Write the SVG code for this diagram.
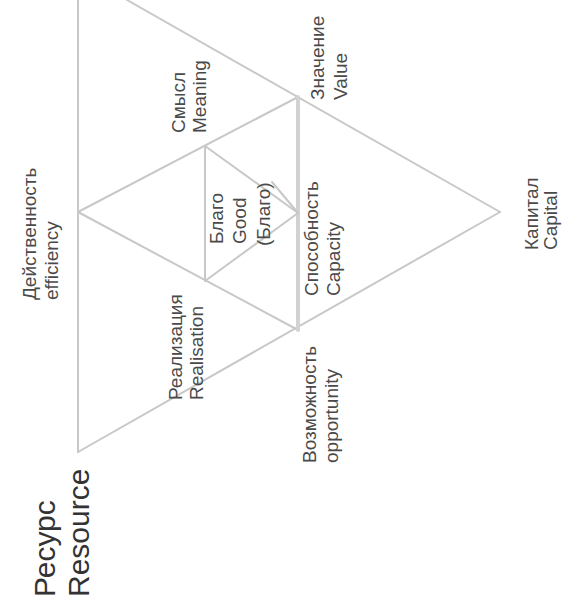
<svg xmlns="http://www.w3.org/2000/svg" width="574" height="608" viewBox="0 0 574 608">
<style>
.ln{stroke:#c8c8c8;stroke-width:2;fill:none;stroke-linecap:round}
.thick{stroke:#d2d2d2;stroke-width:4}
text{font-family:"Liberation Sans",Arial,sans-serif;fill:#4a4a4a;font-size:19px}
.big{font-size:30px;fill:#333}
</style>
<rect width="574" height="608" fill="#fff"/>
<g id="connectors">
<line class="ln" x1="78" y1="0" x2="78" y2="452"/>
<line class="ln" x1="78" y1="452" x2="500" y2="212"/>
<line class="ln" x1="127" y1="0" x2="500" y2="212"/>
<line class="ln" x1="78" y1="212" x2="298" y2="97"/>
<line class="ln" x1="78" y1="212" x2="298" y2="330"/>
<line class="ln thick" x1="298" y1="97" x2="298" y2="330"/>
<line class="ln" x1="205" y1="146" x2="205" y2="281"/>
<line class="ln" x1="205" y1="146" x2="298" y2="213"/>
<line class="ln" x1="205" y1="281" x2="298" y2="213"/>
<line class="ln" x1="272" y1="182" x2="298" y2="213"/>
</g>
<g id="resource"><text class="big" transform="translate(55,597) rotate(-90)">Ресурс</text><text class="big" transform="translate(89,597) rotate(-90)">Resource</text></g>
<g id="efficiency"><text transform="translate(36,300) rotate(-90)">Действенность</text><text transform="translate(58,300) rotate(-90)">efficiency</text></g>
<g id="realisation"><text transform="translate(182,400) rotate(-90)">Реализация</text><text transform="translate(203,400) rotate(-90)">Realisation</text></g>
<g id="meaning"><text transform="translate(185,133) rotate(-90)">Смысл</text><text transform="translate(206,133) rotate(-90)">Meaning</text></g>
<g id="good"><text transform="translate(223,244) rotate(-90)">Благо</text><text transform="translate(246,244) rotate(-90)">Good</text><text transform="translate(270,246) rotate(-90)">(Благо)</text></g>
<g id="opportunity"><text transform="translate(316,463) rotate(-90)">Возможность</text><text transform="translate(338,463) rotate(-90)">opportunity</text></g>
<g id="capacity"><text transform="translate(318,296) rotate(-90)">Способность</text><text transform="translate(340,296) rotate(-90)">Capacity</text></g>
<g id="value"><text transform="translate(324,100) rotate(-90)">Значение</text><text transform="translate(347,100) rotate(-90)">Value</text></g>
<g id="capital"><text transform="translate(538,250) rotate(-90)">Капитал</text><text transform="translate(557,250) rotate(-90)">Capital</text></g>
</svg>
